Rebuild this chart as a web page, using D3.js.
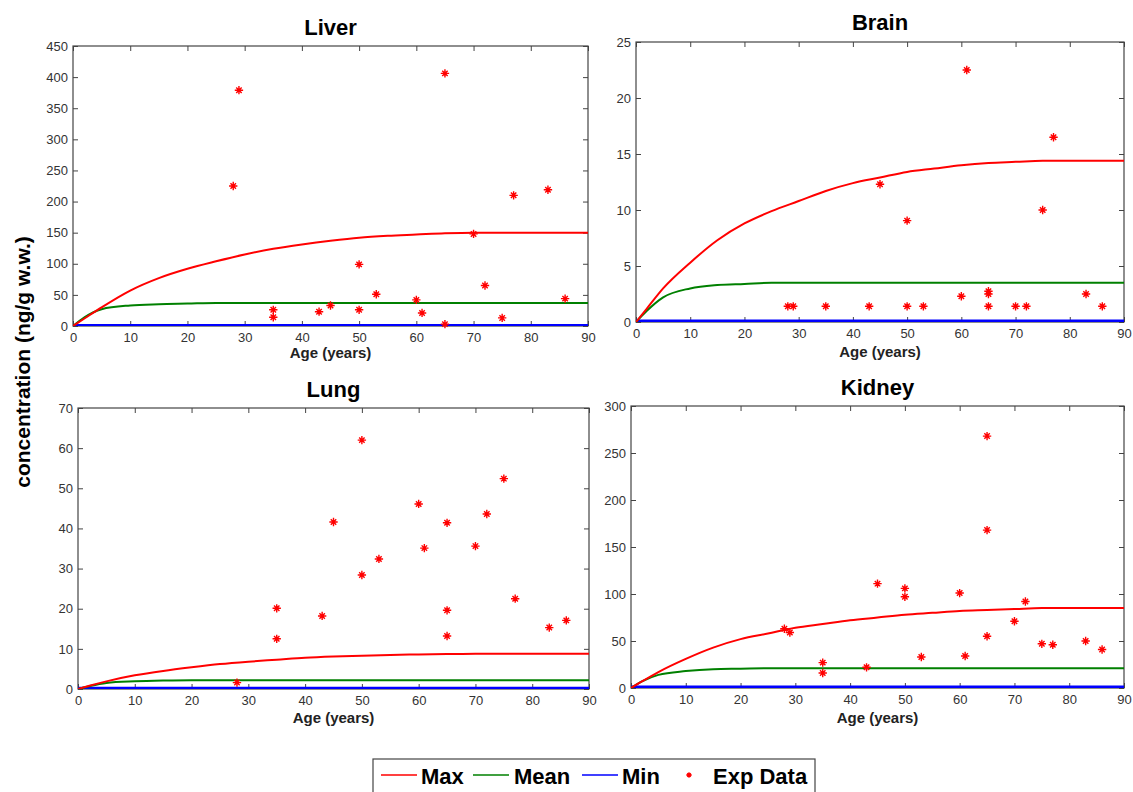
<!DOCTYPE html>
<html>
<head>
<meta charset="utf-8">
<script src="https://cdn.jsdelivr.net/npm/d3@7"></script>
<style>
  body { margin: 0; background: #fff; }
  svg { display: block; }
  .tick text { font-family: "Liberation Sans Narrow", "Liberation Sans", Arial, sans-serif; font-size: 13px; fill: #333; }
  .tick line { stroke: #444; }
</style>
</head>
<body>
<div id="graph"></div>
<script>
//Javascript Document

// ages used for the model curves (years)
var curveAges = [0, 2, 5, 10, 15, 20, 25, 30, 35, 40, 45, 50, 55, 60, 65, 70, 75, 80, 85, 90];

// model curves (ng/g w.w.)
var liverMax  = [0, 12, 30, 57, 77, 92, 104, 115, 124, 131, 137, 142, 145, 147, 149, 150, 150, 150, 150, 150];
var liverMean = [0, 14, 27, 33, 35, 36, 37, 37, 37, 37, 37, 37, 37, 37, 37, 37, 37, 37, 37, 37];
var liverMin  = [1, 1, 1, 1, 1, 1, 1, 1, 1, 1, 1, 1, 1, 1, 1, 1, 1, 1, 1, 1];

var brainMax  = [0, 1.2, 3.0, 5.3, 7.3, 8.8, 9.9, 10.8, 11.7, 12.4, 12.9, 13.4, 13.7, 14.0, 14.2, 14.3, 14.4, 14.4, 14.4, 14.4];
var brainMean = [0, 1.0, 2.2, 3.0, 3.3, 3.4, 3.5, 3.5, 3.5, 3.5, 3.5, 3.5, 3.5, 3.5, 3.5, 3.5, 3.5, 3.5, 3.5, 3.5];
var brainMin  = [0.1, 0.1, 0.1, 0.1, 0.1, 0.1, 0.1, 0.1, 0.1, 0.1, 0.1, 0.1, 0.1, 0.1, 0.1, 0.1, 0.1, 0.1, 0.1, 0.1];

var lungMax  = [0, 0.8, 1.9, 3.4, 4.5, 5.4, 6.2, 6.8, 7.3, 7.8, 8.1, 8.3, 8.5, 8.6, 8.7, 8.8, 8.8, 8.8, 8.8, 8.8];
var lungMean = [0, 0.7, 1.5, 1.9, 2.1, 2.2, 2.2, 2.2, 2.2, 2.2, 2.2, 2.2, 2.2, 2.2, 2.2, 2.2, 2.2, 2.2, 2.2, 2.2];
var lungMin  = [0.2, 0.2, 0.2, 0.2, 0.2, 0.2, 0.2, 0.2, 0.2, 0.2, 0.2, 0.2, 0.2, 0.2, 0.2, 0.2, 0.2, 0.2, 0.2, 0.2];

var kidneyMax  = [0, 7, 17, 31, 43, 52, 58, 64, 68, 72, 75, 78, 80, 82, 83, 84, 85, 85, 85, 85];
var kidneyMean = [0, 7, 14, 18, 20, 20.5, 21, 21, 21, 21, 21, 21, 21, 21, 21, 21, 21, 21, 21, 21];
var kidneyMin  = [1, 1, 1, 1, 1, 1, 1, 1, 1, 1, 1, 1, 1, 1, 1, 1, 1, 1, 1, 1];

// experimental data points (age, concentration)
var liverExpAge = [28, 29, 35, 35, 43, 45, 50, 50, 53, 60, 61, 65, 65, 70, 72, 75, 77, 83, 86];
var liverExp    = [225, 379, 26, 14, 23, 33, 99, 26, 51, 42, 21, 406, 3, 148, 65, 13, 210, 219, 44];

var brainExpAge = [28, 29, 35, 43, 45, 50, 50, 53, 60, 61, 65, 65, 65, 70, 72, 75, 77, 83, 86];
var brainExp    = [1.4, 1.4, 1.4, 1.4, 12.3, 9.05, 1.4, 1.4, 2.3, 22.5, 2.75, 2.5, 1.4, 1.4, 1.4, 10.0, 16.5, 2.5, 1.4];

var lungExpAge = [28, 35, 35, 43, 45, 50, 50, 53, 60, 61, 65, 65, 65, 70, 72, 75, 77, 83, 86];
var lungExp    = [1.6, 20.1, 12.5, 18.2, 41.6, 62, 28.4, 32.4, 46.1, 35.1, 41.4, 19.6, 13.2, 35.6, 43.6, 52.4, 22.5, 15.3, 17.1];

var kidneyExpAge = [28, 29, 35, 35, 43, 45, 50, 50, 53, 60, 61, 65, 65, 65, 70, 72, 75, 77, 83, 86];
var kidneyExp    = [63, 59, 27, 16, 22, 111, 106, 97, 33, 101, 34, 268, 168, 55, 71, 92, 47, 46, 50, 41];

// axis ticks
var xTicks = [0, 10, 20, 30, 40, 50, 60, 70, 80, 90];
var liverTicks  = [0, 50, 100, 150, 200, 250, 300, 350, 400, 450];
var brainTicks  = [0, 5, 10, 15, 20, 25];
var lungTicks   = [0, 10, 20, 30, 40, 50, 60, 70];
var kidneyTicks = [0, 50, 100, 150, 200, 250, 300];

var seriesNames = ["Max", "Mean", "Min", "Exp Data"];
var seriesColors = ["#ff0000", "#008000", "#0000ff", "#ff0000"];

(function(){
	"use strict";

	var W = 1133, H = 792;

	//where each panel sits on the page
	var panels = [
		{title: "Liver",  max: liverMax,  mean: liverMean,  min: liverMin,  ea: liverExpAge,  ev: liverExp,  ticks: liverTicks,
		 left: 73,  right: 588,  top: 46,  bottom: 326, titleY: 35,  labelY: 358},
		{title: "Brain",  max: brainMax,  mean: brainMean,  min: brainMin,  ea: brainExpAge,  ev: brainExp,  ticks: brainTicks,
		 left: 636, right: 1124, top: 42,  bottom: 322, titleY: 30,  labelY: 357},
		{title: "Lung",   max: lungMax,   mean: lungMean,   min: lungMin,   ea: lungExpAge,   ev: lungExp,   ticks: lungTicks,
		 left: 78,  right: 589,  top: 408, bottom: 689, titleY: 397, labelY: 723},
		{title: "Kidney", max: kidneyMax, mean: kidneyMean, min: kidneyMin, ea: kidneyExpAge, ev: kidneyExp, ticks: kidneyTicks,
		 left: 631, right: 1124, top: 406, bottom: 688, titleY: 395, labelY: 723}
	];

	var svg = d3.select("#graph").append("svg")
		.attr("width", W)
		.attr("height", H);

	//matlab style star marker: a plus with an x over it
	var star = {
		draw: function(ctx, size) {
			var r = Math.sqrt(size) / 2;
			var q = r * 0.65;
			ctx.moveTo(-r, 0); ctx.lineTo(r, 0);
			ctx.moveTo(0, -r); ctx.lineTo(0, r);
			ctx.moveTo(-q, -q); ctx.lineTo(q, q);
			ctx.moveTo(-q, q); ctx.lineTo(q, -q);
		}
	};
	var starPath = d3.symbol().type(star).size(70)();

	panels.forEach(function(p) {
		var x = d3.scaleLinear().domain([0, 90]).range([p.left, p.right]);
		var y = d3.scaleLinear().domain([0, d3.max(p.ticks)]).range([p.bottom, p.top]);

		var g = svg.append("g").attr("class", "panel");

		//clip so the lines stay in the box
		var clipId = "clip-" + p.title;
		g.append("clipPath").attr("id", clipId)
			.append("rect")
			.attr("x", p.left).attr("y", p.top - 1)
			.attr("width", p.right - p.left).attr("height", p.bottom - p.top + 1);

		//ticks on all four sides, pointing inward
		g.append("g")
			.attr("transform", "translate(0," + p.bottom + ")")
			.call(d3.axisBottom(x).tickValues(xTicks).tickSizeInner(-5).tickSizeOuter(0).tickPadding(7))
			.call(function(a) { a.select(".domain").remove(); });
		g.append("g")
			.attr("transform", "translate(0," + p.top + ")")
			.call(d3.axisTop(x).tickValues(xTicks).tickSizeInner(-5).tickSizeOuter(0).tickFormat(""))
			.call(function(a) { a.select(".domain").remove(); });
		g.append("g")
			.attr("transform", "translate(" + p.left + ",0)")
			.call(d3.axisLeft(y).tickValues(p.ticks).tickSizeInner(-5).tickSizeOuter(0).tickPadding(5))
			.call(function(a) { a.select(".domain").remove(); });
		g.append("g")
			.attr("transform", "translate(" + p.right + ",0)")
			.call(d3.axisRight(y).tickValues(p.ticks).tickSizeInner(-5).tickSizeOuter(0).tickFormat(""))
			.call(function(a) { a.select(".domain").remove(); });

		g.append("rect")
			.attr("x", p.left).attr("y", p.top)
			.attr("width", p.right - p.left).attr("height", p.bottom - p.top)
			.attr("fill", "none")
			.attr("stroke", "#444")
			.attr("stroke-width", 1.2);

		var line = d3.line()
			.x(function(d, i) { return x(curveAges[i]); })
			.y(function(d) { return y(d); })
			.curve(d3.curveMonotoneX);

		var lines = g.append("g").attr("clip-path", "url(#" + clipId + ")");
		[[p.min, seriesColors[2], 3], [p.mean, seriesColors[1], 2], [p.max, seriesColors[0], 2]].forEach(function(s) {
			lines.append("path")
				.datum(s[0])
				.attr("d", line)
				.attr("fill", "none")
				.attr("stroke", s[1])
				.attr("stroke-width", s[2]);
		});

		g.selectAll(".pt")
			.data(p.ev)
			.enter().append("path")
			.attr("class", "pt")
			.attr("transform", function(d, i) { return "translate(" + x(p.ea[i]) + "," + y(d) + ")"; })
			.attr("d", starPath)
			.attr("fill", "none")
			.attr("stroke", seriesColors[3])
			.attr("stroke-width", 1.4);

		g.append("text")
			.attr("x", (p.left + p.right) / 2)
			.attr("y", p.titleY)
			.attr("text-anchor", "middle")
			.style("font", "bold 22px 'Liberation Sans', Arial, sans-serif")
			.text(p.title);

		g.append("text")
			.attr("x", (p.left + p.right) / 2)
			.attr("y", p.labelY)
			.attr("text-anchor", "middle")
			.style("font", "bold 15px 'Liberation Sans', Arial, sans-serif")
			.attr("fill", "#222")
			.text("Age (years)");
	});

	//shared y label
	svg.append("text")
		.attr("transform", "translate(30,362) rotate(-90)")
		.attr("text-anchor", "middle")
		.style("font", "bold 21px 'Liberation Sans', Arial, sans-serif")
		.text("concentration (ng/g w.w.)");

	//legend at the bottom
	var legend = svg.append("g").attr("class", "legend");
	legend.append("rect")
		.attr("x", 373).attr("y", 759)
		.attr("width", 442).attr("height", 40)
		.attr("fill", "#fff")
		.attr("stroke", "#444")
		.attr("stroke-width", 1.2);

	var legendX = [381, 473, 582, 689];
	var textX = [421, 514, 622, 713];
	seriesNames.forEach(function(name, i) {
		if (i < 3) {
			legend.append("line")
				.attr("x1", legendX[i]).attr("x2", legendX[i] + 36)
				.attr("y1", 775).attr("y2", 775)
				.attr("stroke", seriesColors[i])
				.attr("stroke-width", 1.5);
		} else {
			legend.append("path")
				.attr("transform", "translate(" + legendX[i] + ",775)")
				.attr("d", d3.symbol().type(star).size(30)())
				.attr("fill", "none")
				.attr("stroke", seriesColors[i])
				.attr("stroke-width", 1.3);
		}
		legend.append("text")
			.attr("x", textX[i])
			.attr("y", 784)
			.style("font", "bold 22px 'Liberation Sans', Arial, sans-serif")
			.text(name);
	});

})();
</script>
</body>
</html>
